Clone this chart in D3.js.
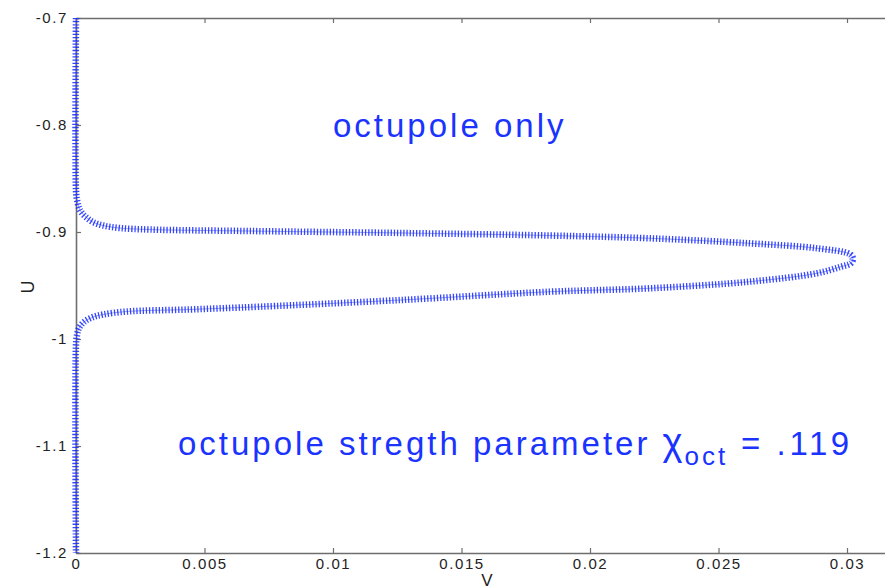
<!DOCTYPE html>
<html>
<head>
<meta charset="utf-8">
<script src="https://cdn.jsdelivr.net/npm/d3@7"></script>
<style>
  html, body { margin: 0; padding: 0; background: #fff; }
  svg { display: block; font-family: "Liberation Sans", Arial, sans-serif; }
</style>
</head>
<body>
<div id="chart"></div>
<script>
// Trajectory in the (V, U) plane, traced from the top of the U range,
// out along the upper branch to the tip, back along the lower branch and down.
const vValues = [0, 0, 0.00004, 0.00012, 0.00023, 0.00043, 0.00066, 0.00105, 0.00171, 0.00288,
  0.00677, 0.01261, 0.01844, 0.02233, 0.02622, 0.02883, 0.03012, 0.03023,
  0.03016, 0.02973, 0.02883, 0.02622, 0.02233, 0.01844, 0.01261, 0.00716, 0.00444,
  0.00198, 0.00105, 0.00062, 0.00031, 0.00012, 0.00004, 0, 0];
const uValues = [-0.7, -0.8607, -0.8700, -0.8776, -0.8822, -0.8869, -0.8907, -0.8939, -0.8963, -0.8977,
  -0.8991, -0.9009, -0.9033, -0.9059, -0.9106, -0.9152, -0.9208, -0.9248,
  -0.9290, -0.9327, -0.9386, -0.9464, -0.9526, -0.9558, -0.9636, -0.9698, -0.9724,
  -0.9743, -0.9771, -0.9799, -0.9841, -0.9897, -0.9963, -1.0056, -1.2];

const xTicks = [0, 0.005, 0.01, 0.015, 0.02, 0.025, 0.03];
const xTickLabels = ["0", "0.005", "0.01", "0.015", "0.02", "0.025", "0.03"];
const yTicks = [-0.7, -0.8, -0.9, -1.0, -1.1, -1.2];
const yTickLabels = ["-0.7", "-0.8", "-0.9", "-1", "-1.1", "-1.2"];

const W = 885, H = 587;
const plotLeft = 76, plotTop = 18, plotBottom = 553;
const plotRight = plotLeft + 0.032 / 0.005 * 128.5;   // axes box runs past the window edge

const x = d3.scaleLinear().domain([0, 0.032]).range([plotLeft, plotRight]);
const y = d3.scaleLinear().domain([-1.2, -0.7]).range([plotBottom, plotTop]);

const svg = d3.select("#chart").append("svg")
  .attr("width", W).attr("height", H);

const axisColor = "#6e6e6e";
const blue = "#1a33ff";

function styleAxis(g) {
  g.select(".domain").attr("stroke", axisColor).attr("stroke-width", 1.6);
  g.selectAll(".tick line").attr("stroke", axisColor).attr("stroke-width", 1.2);
  g.selectAll(".tick text")
    .attr("fill", "#222")
    .style("font-size", "15px")
    .style("letter-spacing", "1.6px")
    .style("font-family", "'Liberation Sans', Arial, sans-serif");
}

// bottom axis
svg.append("g")
  .attr("transform", `translate(0,${plotBottom})`)
  .call(d3.axisBottom(x).tickValues(xTicks).tickSizeInner(-5).tickSizeOuter(0)
    .tickPadding(5).tickFormat((d, i) => xTickLabels[i]))
  .call(styleAxis);

// top axis (ticks only)
svg.append("g")
  .attr("transform", `translate(0,${plotTop})`)
  .call(d3.axisTop(x).tickValues(xTicks).tickSizeInner(-5).tickSizeOuter(0).tickFormat(""))
  .call(styleAxis);

// left axis
svg.append("g")
  .attr("transform", `translate(${plotLeft},0)`)
  .call(d3.axisLeft(y).tickValues(yTicks).tickSizeInner(-5).tickSizeOuter(0)
    .tickPadding(8).tickFormat((d, i) => yTickLabels[i]))
  .call(styleAxis);

// right axis (ticks only)
svg.append("g")
  .attr("transform", `translate(${plotRight},0)`)
  .call(d3.axisRight(y).tickValues(yTicks).tickSizeInner(-5).tickSizeOuter(0).tickFormat(""))
  .call(styleAxis);

// axis titles
svg.append("text")
  .attr("x", 487).attr("y", 586)
  .attr("text-anchor", "middle")
  .style("font-size", "17px").attr("fill", "#222")
  .text("V");

svg.append("text")
  .attr("transform", `translate(34,287) rotate(-90)`)
  .attr("text-anchor", "middle")
  .style("font-size", "18px").attr("fill", "#222")
  .text("U");

// trajectory, drawn with '+' style markers: a thick dashed stroke gives the
// cross bars, a thin stroke the bars running along the path
const pts = vValues.map((v, i) => [v, uValues[i]]);
const line = d3.line()
  .x(d => x(d[0]))
  .y(d => y(d[1]))
  .curve(d3.curveCatmullRom.alpha(0.5));

svg.append("path")
  .datum(pts)
  .attr("d", line)
  .attr("fill", "none")
  .attr("stroke", "#2a3cff")
  .attr("stroke-opacity", 0.45)
  .attr("stroke-width", 1);

svg.append("path")
  .datum(pts)
  .attr("d", line)
  .attr("fill", "none")
  .attr("stroke", "#1428ff")
  .attr("stroke-opacity", 0.85)
  .attr("stroke-width", 6.5)
  .attr("stroke-dasharray", "1.3 1.9");

// annotations
svg.append("text")
  .attr("x", 333).attr("y", 137)
  .attr("fill", blue)
  .style("font-size", "33px").style("letter-spacing", "3px")
  .text("octupole only");

const note = svg.append("text")
  .attr("x", 178).attr("y", 455)
  .attr("fill", blue)
  .style("font-size", "33px").style("letter-spacing", "3px");
note.append("tspan").text("octupole stregth parameter ");
note.append("tspan").style("font-size", "38px").style("letter-spacing", "2px").text("χ");
note.append("tspan").attr("dy", 10).style("font-size", "26px").style("letter-spacing", "3px").text("oct");
note.append("tspan").attr("dy", -10).style("letter-spacing", "3.6px").text(" = .119");
</script>
</body>
</html>
